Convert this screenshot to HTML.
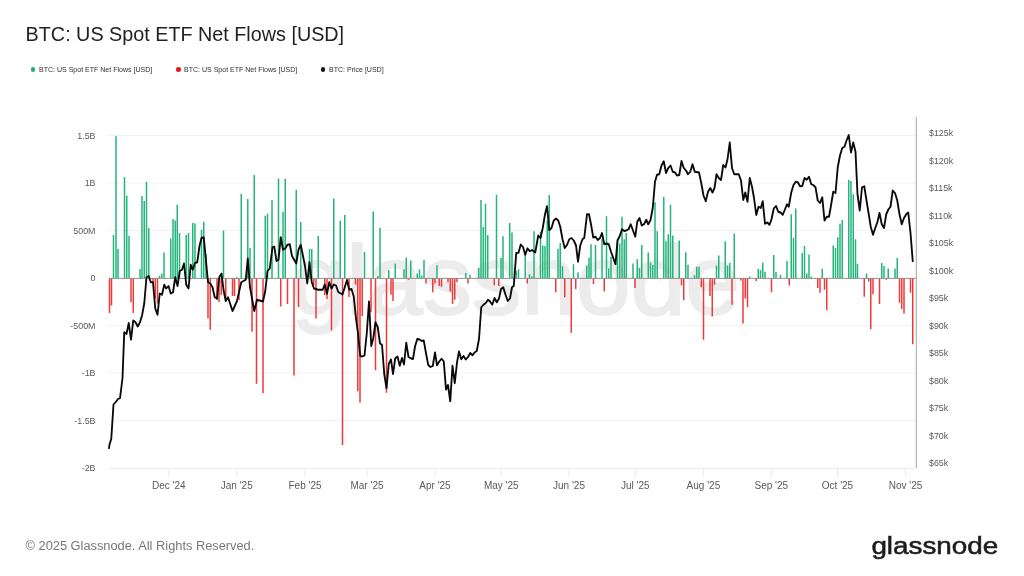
<!DOCTYPE html>
<html lang="en">
<head>
<meta charset="utf-8">
<title>BTC: US Spot ETF Net Flows [USD]</title>
<style>
html,body{margin:0;padding:0;background:#fff;}
body{width:1024px;height:576px;position:relative;overflow:hidden;font-family:"Liberation Sans",sans-serif;}
.title{position:absolute;left:25.6px;top:22px;margin:0;font-size:19.77px;line-height:24px;font-weight:400;color:#222;white-space:nowrap;}
.legend{position:absolute;left:0;top:64px;height:12px;width:1024px;margin:0;padding:0;list-style:none;font-size:8.1px;line-height:12px;color:#2e2e2e;}
.legend li{position:absolute;top:0;white-space:nowrap;}
.legend i{position:absolute;top:3.4px;width:4.6px;height:4.6px;border-radius:50%;}
.legend span{position:absolute;top:0.1px;transform:scaleX(0.868);transform-origin:0 50%;}
.chart{position:absolute;left:0;top:0;}
.copy{position:absolute;left:25.5px;top:538.3px;font-size:12.82px;line-height:16px;color:#777;white-space:nowrap;}
.logo{position:absolute;left:860px;top:520px;width:150px;height:50px;}
</style>
</head>
<body>
<h1 class="title">BTC: US Spot ETF Net Flows [USD]</h1>
<ul class="legend">
<li><i style="left:30.5px;background:#1fae70"></i><span style="left:38.6px">BTC: US Spot ETF Net Flows [USD]</span></li>
<li><i style="left:176.4px;background:#e8171c"></i><span style="left:184.2px">BTC: US Spot ETF Net Flows [USD]</span></li>
<li><i style="left:320.8px;background:#111"></i><span style="left:329.3px">BTC: Price [USD]</span></li>
</ul>
<svg class="chart" width="1024" height="576" viewBox="0 0 1024 576">
<line x1="108.7" x2="916" y1="135.5" y2="135.5" stroke="#f2f2f2" stroke-width="1"/>
<line x1="108.7" x2="916" y1="183" y2="183" stroke="#f2f2f2" stroke-width="1"/>
<line x1="108.7" x2="916" y1="230.5" y2="230.5" stroke="#f2f2f2" stroke-width="1"/>
<line x1="108.7" x2="916" y1="325.5" y2="325.5" stroke="#f2f2f2" stroke-width="1"/>
<line x1="108.7" x2="916" y1="373" y2="373" stroke="#f2f2f2" stroke-width="1"/>
<line x1="108.7" x2="916" y1="420.5" y2="420.5" stroke="#f2f2f2" stroke-width="1"/>
<text x="291.5" y="313.5" font-family="'Liberation Sans', sans-serif" font-size="98.4" font-weight="400" fill="#ececec" stroke="#ececec" stroke-width="2">glassnode</text>
<line x1="168.75" x2="168.75" y1="468" y2="476.5" stroke="#e9e9e9" stroke-width="1"/>
<line x1="236.75" x2="236.75" y1="468" y2="476.5" stroke="#e9e9e9" stroke-width="1"/>
<line x1="305" x2="305" y1="468" y2="476.5" stroke="#e9e9e9" stroke-width="1"/>
<line x1="367" x2="367" y1="468" y2="476.5" stroke="#e9e9e9" stroke-width="1"/>
<line x1="435" x2="435" y1="468" y2="476.5" stroke="#e9e9e9" stroke-width="1"/>
<line x1="501.25" x2="501.25" y1="468" y2="476.5" stroke="#e9e9e9" stroke-width="1"/>
<line x1="569" x2="569" y1="468" y2="476.5" stroke="#e9e9e9" stroke-width="1"/>
<line x1="635.3" x2="635.3" y1="468" y2="476.5" stroke="#e9e9e9" stroke-width="1"/>
<line x1="703.4" x2="703.4" y1="468" y2="476.5" stroke="#e9e9e9" stroke-width="1"/>
<line x1="771.3" x2="771.3" y1="468" y2="476.5" stroke="#e9e9e9" stroke-width="1"/>
<line x1="837.5" x2="837.5" y1="468" y2="476.5" stroke="#e9e9e9" stroke-width="1"/>
<line x1="905.5" x2="905.5" y1="468" y2="476.5" stroke="#e9e9e9" stroke-width="1"/>
<line x1="108.7" x2="916" y1="468.4" y2="468.4" stroke="#e9e9e9" stroke-width="1"/>
<path d="M113.5 278V235M116 278V136.3M118 278V249M124.5 278V177M126.75 278V195.5M129 278V236M140 278V269M142 278V196M144.25 278V201M146.5 278V182M148.75 278V228M159.5 278V276M161.75 278V273.5M164 278V252.5M170.75 278V238.5M173 278V219M175.25 278V220.5M177.25 278V204.75M179.5 278V233M186.25 278V235M188.5 278V233M192.75 278V223M195 278V223.5M201.5 278V230M203.75 278V221.75M206 278V254M223.5 278V230.5M236.75 278V277M241.25 278V194M247.75 278V199M250 278V248M254.25 278V175M265.25 278V215.75M267.5 278V213.75M272 278V200M278.5 278V178.5M283 278V211.75M285.25 278V178.75M296.25 278V189.75M300.75 278V222M309.5 278V249M311.75 278V249M318.25 278V236M333.75 278V198.5M340.25 278V220.75M344.75 278V215M364.5 278V252M373.25 278V211.5M377.75 278V276M380 278V227.75M388.75 278V270M395.25 278V263.5M404 278V269.25M406.25 278V257.5M410.75 278V260.5M417.25 278V273.5M419.5 278V269.5M421.75 278V275.5M424 278V259.75M437 278V265.25M465.75 278V273M470 278V274.75M478.75 278V268M481 278V200M483.25 278V227M485.5 278V203.75M487.75 278V235M496.5 278V194.75M501 278V258M503 278V236.25M509.75 278V223M512 278V232.5M516.25 278V271M518.5 278V269.25M525.25 278V253M529.5 278V274.25M531.75 278V276.5M534 278V231.25M540.5 278V231.75M542.75 278V245.5M545 278V246M547.25 278V220.5M549.25 278V195M558 278V248.75M560.25 278V243M562.5 278V266.25M573.5 278V264.25M578 278V272.25M586.75 278V265.5M589 278V257.5M591 278V244.25M595.5 278V245M602 278V239.25M606.5 278V216.25M608.75 278V268.5M611 278V256.75M617.5 278V240.5M619.75 278V243.5M622 278V216.75M624.25 278V239.25M626.25 278V233M633 278V263.5M637.25 278V259.25M639.5 278V268M641.75 278V245M648.25 278V252.5M650.5 278V262.5M652.75 278V265M655 278V202.25M657.25 278V231.25M663.75 278V196.75M666 278V241.25M668.25 278V234.25M670.5 278V204.75M672.75 278V235.5M679.25 278V240.5M685.75 278V252.25M688 278V264.75M694.5 278V275.25M696.75 278V266.75M699 278V266.75M716.5 278V265.5M718.75 278V255.5M725.25 278V241.25M727.5 278V265.5M729.75 278V263M734.25 278V233.5M749.75 278V276.5M758.25 278V268.75M760.5 278V270M762.75 278V262.5M765 278V271.75M773.75 278V255M776 278V271.75M780.5 278V274.75M787 278V261M791.25 278V214.25M793.5 278V238M795.75 278V208.5M802.25 278V253M804.5 278V246M806.75 278V273.5M809 278V254.5M811.25 278V276.75M822.25 278V268.75M833.25 278V245.5M835.5 278V248M837.75 278V237.25M840 278V223.75M842.25 278V220M848.75 278V180M851 278V181M853.25 278V194.25M855.5 278V239.25M857.5 278V263.75M866.5 278V273.5M881.75 278V263M884 278V266M888.25 278V268.5M895 278V268.5M897.25 278V258" stroke="#25b47c" stroke-width="1.5" fill="none"/>
<path d="M109.5 278V313M111.5 278V305.5M131 278V302M133.25 278V313M153 278V283.5M155.25 278V298.5M157.5 278V303.5M208 278V318.5M210.25 278V329.75M217 278V300M219 278V302M221.25 278V295M225.75 278V300M232.5 278V296M234.5 278V296M239 278V300M252 278V331.75M256.5 278V383.75M263 278V393.25M280.75 278V306.5M287.5 278V304M294 278V375.5M298.5 278V307M313.75 278V285M316 278V318.5M324.75 278V295M327 278V299M331.5 278V330.5M342.5 278V445M349 278V297M355.5 278V284.75M357.75 278V391.25M360 278V402.5M362.25 278V316M371 278V312.25M375.5 278V370.25M386.5 278V392.75M391 278V294.75M393 278V301M408.5 278V279.75M426 278V283.5M432.75 278V292.25M435 278V283.5M439.25 278V286M441.5 278V286.75M448 278V282.25M450.25 278V291.5M452.5 278V304M454.75 278V299.75M457 278V282.25M468 278V283.5M494.25 278V285.25M498.75 278V286M527.25 278V283.5M555.75 278V292.25M564.75 278V297.25M571.25 278V332.75M575.75 278V289M593.5 278V284M604.25 278V291.5M635 278V288M681.5 278V285.5M683.75 278V300.25M701.25 278V287.25M703.5 278V339.75M710 278V296M712.25 278V316.5M714.5 278V284.75M732 278V304.75M740.75 278V280.5M743 278V323.5M745.25 278V298.5M747.5 278V307.25M756.25 278V281M771.5 278V292.25M789.25 278V285.5M817.75 278V288M820 278V292.75M824.5 278V289.75M826.75 278V310.25M864.25 278V296.75M868.75 278V281.5M870.75 278V329.25M873 278V294.25M879.5 278V304M886.25 278V279.75M899.5 278V302.75M901.75 278V309M904 278V313.5M910.5 278V292.75M912.75 278V344.25" stroke="#f03a3a" stroke-width="1.5" fill="none"/>
<line x1="109" x2="916" y1="278.4" y2="278.4" stroke="#909090" stroke-width="1"/>
<line x1="916.3" x2="916.3" y1="117" y2="468" stroke="#9a9a9a" stroke-width="0.9"/>
<path d="M109 448.25 L109.5 444.5 L111.25 439 L113.5 404.5 L115.75 402 L118 399 L120 398.25 L122.5 378.25 L124.25 332.25 L126.5 334 L128.75 323 L131 339.75 L133.25 320.5 L135.5 322.25 L137.75 326.5 L140 322.25 L142 315.5 L144.25 303.5 L146.5 277.25 L148.75 276 L150.75 282.25 L153 282.25 L155.25 308.5 L157.5 314.75 L159.75 293.5 L162 294.75 L164.25 284.75 L166.25 288.5 L168.5 286 L170.75 293.5 L173 292.25 L175.25 277.25 L177.5 286 L179.75 271 L182 269.75 L184 263.5 L186.25 284.75 L188.5 288.5 L190.75 264.75 L192.75 269.75 L195 263 L197.25 262.25 L199.5 246 L201.5 238 L203.75 237.25 L206 261 L208 282.25 L210.25 283.5 L212.5 287.25 L214.75 297.25 L217 298.5 L219.25 277.25 L221.5 273.5 L223.5 289.75 L225.75 301 L228 297.25 L232.5 311 L237 301 L241.25 282.25 L245.75 279.75 L247.75 258.5 L250 287.25 L254.25 311 L257 299.75 L263 301.5 L265.25 291 L267.5 271 L269.75 268.5 L272.5 247.25 L274.25 246.5 L276.5 261 L278.5 259.75 L280.75 237.25 L283 249.75 L285.25 248.5 L287.5 244.75 L289.75 244.25 L292 256 L296.25 263.5 L298.5 249.75 L300.75 244.75 L303 256 L305 266 L307.25 283.5 L309.5 262.25 L311.75 282.25 L314 288.5 L318.25 289.75 L322.75 289.75 L324.75 284.5 L327 293.75 L329.25 282.25 L331.5 288.5 L333.75 284.5 L336 285.5 L338.25 292 L342.5 294.5 L347 280 L349.25 289.75 L351.5 289 L353.75 296.5 L356 318.5 L358 333.5 L360.25 356 L362.5 356.5 L364.5 355.5 L366.75 333.5 L369 301.5 L371.25 346 L373.25 338.5 L375.5 322.25 L377.75 327.25 L380 343.5 L382 344.75 L384.25 374 L386.5 388.25 L388.75 364 L391 359.5 L393 374 L395.25 358.25 L397.5 356.5 L399.75 365.75 L402 358 L404 364.5 L406.25 342.75 L408.5 357 L410.75 358.25 L413 359 L415 346.5 L417.25 339 L419.5 339.5 L421.75 341 L423.75 340.5 L426 353.25 L428.25 365 L430.5 367 L432.75 366 L435 352.5 L437 365.25 L439.25 361.5 L441.5 358.75 L443.75 361.25 L446 389.5 L448 385 L450.25 401.25 L452.5 365.75 L454.75 383.25 L457 362.5 L459 351.5 L461.25 359.25 L463.5 356 L465.75 359.5 L468 357 L470.25 353 L472.5 355.25 L474.5 352.5 L476.75 351 L479 339 L481.25 307.25 L483.5 304.75 L485.75 303 L488 299.75 L490 301.5 L492.25 304.75 L494.5 298 L496.75 302.25 L499 298.5 L501 289 L503.25 287.25 L505.5 294.75 L507.75 301 L510 298.5 L512 287.25 L513.75 286 L516.25 253 L518.5 252.75 L520.75 244.5 L523 247 L525.25 254.75 L527.5 248.25 L529.75 251.25 L532 250 L535.25 252.5 L538.25 235.5 L540.5 238 L542.75 228 L545 214.25 L547 206.25 L549.25 230 L551.5 228 L553.75 220.5 L556 218.5 L558.25 220.5 L560.25 226.75 L562.5 239.25 L564.75 248 L567 245 L569.25 239.25 L571.5 238 L573.75 240.5 L576 245.5 L578 261.75 L580.25 245.5 L582.5 239.25 L584.25 238 L587 214.25 L589 214.25 L591 224.25 L593.25 237.5 L595.5 236.75 L597.75 240 L600 238 L602 233 L604.25 244.25 L606.5 243.5 L608.75 244.25 L611 251.75 L615.5 264.25 L617.5 240.5 L619.75 236 L622 229.25 L624.25 231 L626.25 230.5 L628.5 229.25 L630.75 224.25 L633 230.5 L635.25 236.75 L637.25 221.75 L639.5 218 L641.75 225.5 L644 224.25 L646.25 219.75 L648.25 224.25 L650.5 220 L652.75 208 L655 181.75 L657 174.75 L659.25 174.25 L661.5 165.5 L663.75 161.25 L666 173 L668.25 168 L670.5 165.5 L672.75 171.75 L675 172.5 L677 175.5 L679.25 175 L681.5 161 L683.75 168 L686 170.5 L688 174.25 L690.25 171.75 L692.5 164.25 L694.75 171.75 L699 172.5 L701.25 183 L703.5 195.5 L705.75 201.25 L708 191.75 L710.25 188 L712.5 192.5 L714.5 188 L716.5 174.25 L718.75 178 L721 180 L723.25 165 L725.5 167.5 L727.5 159.25 L729.75 142.5 L732 168 L734.25 174.25 L738.75 174.25 L741 180.5 L743.25 200 L745.25 192.5 L747.5 201.75 L749.75 178 L752 186.75 L754 198 L756.25 215 L758.5 206.75 L760.75 208 L762.75 201.25 L765 223.75 L767.25 222.5 L769.5 224.75 L771.5 219.25 L773.75 208.5 L776 206 L778.25 211.75 L780.5 212.5 L782.75 214.75 L785 209.25 L787 204.25 L788.75 206.75 L791.25 192.5 L793.5 185 L795.75 181.75 L798 182.5 L800 186.25 L802.25 186 L804.5 178 L806.75 179.75 L809 176.75 L811.25 184.25 L813.25 185 L815.5 187.25 L817.75 200.5 L820 203 L822.25 197.25 L824.5 220.5 L826.75 216.75 L829 216.75 L831 205.5 L833.25 191.75 L835.5 193 L837.75 167.25 L840 155.5 L842.25 148 L844.5 146.75 L846.5 140.5 L848.75 135 L851 152.5 L853.25 142.5 L855.5 151.75 L857.5 194.25 L859.75 210.5 L862 187.25 L864.25 186.25 L866.5 200.5 L868.75 214.25 L870.75 226.75 L873 234.75 L875.25 228 L877.5 221.75 L879.5 213 L881.75 224.25 L884 228 L886.25 214.25 L888.5 209.25 L890.5 206.75 L892.75 190.5 L895 193 L897.25 200.5 L899.5 214.25 L901.75 224.25 L904 218 L906.25 214.25 L908.25 212.5 L910.5 233 L912.75 261.25" stroke="#0a0a0a" stroke-width="1.85" fill="none" stroke-linejoin="round" stroke-linecap="round"/>
<g font-family="'Liberation Sans', sans-serif" font-size="8.9" fill="#5a5a5a">
<text x="95.5" y="138.5" text-anchor="end">1.5B</text>
<text x="95.5" y="186" text-anchor="end">1B</text>
<text x="95.5" y="233.5" text-anchor="end">500M</text>
<text x="95.5" y="281" text-anchor="end">0</text>
<text x="95.5" y="328.5" text-anchor="end">-500M</text>
<text x="95.5" y="376" text-anchor="end">-1B</text>
<text x="95.5" y="423.5" text-anchor="end">-1.5B</text>
<text x="95.5" y="471" text-anchor="end">-2B</text>
<text x="929" y="136">$125k</text>
<text x="929" y="163.5">$120k</text>
<text x="929" y="191">$115k</text>
<text x="929" y="218.5">$110k</text>
<text x="929" y="246">$105k</text>
<text x="929" y="273.5">$100k</text>
<text x="929" y="301">$95k</text>
<text x="929" y="328.5">$90k</text>
<text x="929" y="356">$85k</text>
<text x="929" y="383.5">$80k</text>
<text x="929" y="411">$75k</text>
<text x="929" y="438.5">$70k</text>
<text x="929" y="466">$65k</text>
<text x="168.75" y="489.3" text-anchor="middle" font-size="10">Dec '24</text>
<text x="236.75" y="489.3" text-anchor="middle" font-size="10">Jan '25</text>
<text x="305" y="489.3" text-anchor="middle" font-size="10">Feb '25</text>
<text x="367" y="489.3" text-anchor="middle" font-size="10">Mar '25</text>
<text x="435" y="489.3" text-anchor="middle" font-size="10">Apr '25</text>
<text x="501.25" y="489.3" text-anchor="middle" font-size="10">May '25</text>
<text x="569" y="489.3" text-anchor="middle" font-size="10">Jun '25</text>
<text x="635.3" y="489.3" text-anchor="middle" font-size="10">Jul '25</text>
<text x="703.4" y="489.3" text-anchor="middle" font-size="10">Aug '25</text>
<text x="771.3" y="489.3" text-anchor="middle" font-size="10">Sep '25</text>
<text x="837.5" y="489.3" text-anchor="middle" font-size="10">Oct '25</text>
<text x="905.5" y="489.3" text-anchor="middle" font-size="10">Nov '25</text>
</g>
</svg>
<div class="copy">© 2025 Glassnode. All Rights Reserved.</div>
<svg class="logo" width="150" height="50" viewBox="0 0 150 50"><text transform="translate(11.4,33.7) scale(1.14,1)" font-family="'Liberation Sans', sans-serif" font-size="24.4" fill="#1c1c1c" stroke="#1c1c1c" stroke-width="0.55">glassnode</text></svg>
</body>
</html>
